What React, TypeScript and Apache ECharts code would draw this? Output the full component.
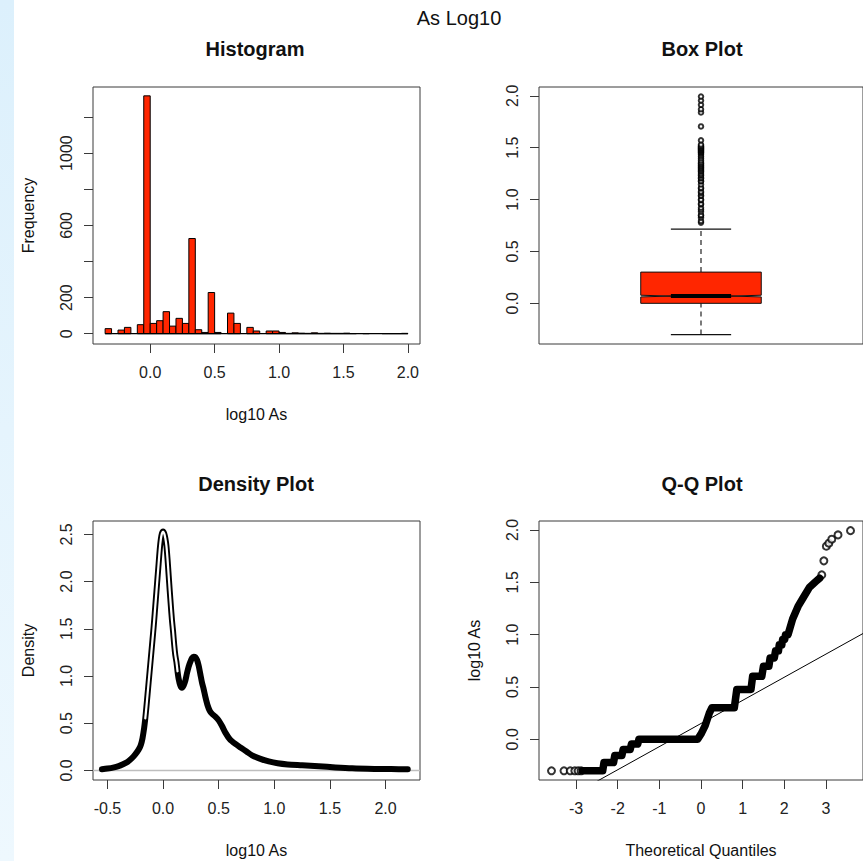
import React, { useEffect, useRef } from "react";
import * as echarts from "echarts";

const FONT = "'Liberation Sans', Arial, Helvetica, sans-serif";
const RED = "#ff2600";
const INK = "#111111";
const TICK_INK = "#222222";
const FRAME = "#3a3a3a";

// ---- Histogram of log10 As (right-closed bins) ----
const histBreaks = [
  -0.35, -0.3, -0.25, -0.2, -0.15, -0.1, -0.05, 0.0, 0.05, 0.1, 0.15, 0.2, 0.25, 0.3, 0.35, 0.4,
  0.45, 0.5, 0.55, 0.6, 0.65, 0.7, 0.75, 0.8, 0.85, 0.9, 0.95, 1.0, 1.05, 1.1, 1.15, 1.2, 1.25,
  1.3, 1.35, 1.4, 1.45, 1.5, 1.55, 1.6, 1.65, 1.7, 1.75, 1.8, 1.85, 1.9, 1.95, 2.0,
];
const histCounts = [
  28, 0, 20, 35, 0, 50, 1317, 57, 72, 122, 42, 85, 57, 527, 22, 7, 228, 7, 0, 114, 57, 0, 35, 15,
  0, 15, 15, 7, 2, 5, 3, 2, 5, 2, 3, 2, 2, 3, 1, 0, 1, 0, 0, 1, 1, 1, 2,
];
const histXTicks = [0, 0.5, 1.0, 1.5, 2.0];
const histYTicks = [0, 200, 400, 600, 800, 1000, 1200];
const histYLabels = [0, 200, 600, 1000];

// ---- Box plot summary ----
const boxStats = { low: -0.301, q1: 0.0, median: 0.07, q3: 0.301, high: 0.716 };
const boxNotch = 0.008;
const boxOutliers = [
  0.778, 0.794, 0.826, 0.845, 0.851, 0.883, 0.903, 0.921, 0.954, 0.96, 0.995, 1.0, 1.034, 1.041,
  1.065, 1.079, 1.107, 1.114, 1.146, 1.176, 1.18, 1.204, 1.21, 1.23, 1.24, 1.255, 1.27, 1.279,
  1.29, 1.301, 1.31, 1.322, 1.33, 1.342, 1.35, 1.362, 1.38, 1.398, 1.415, 1.431, 1.447, 1.455,
  1.462, 1.47, 1.477, 1.484, 1.491, 1.498, 1.505, 1.512, 1.519, 1.531, 1.571, 1.705, 1.84,
  1.871, 1.913, 1.955, 1.993,
];
const boxYTicks = [0, 0.5, 1.0, 1.5, 2.0];

// ---- Kernel density of log10 As ----
const densityX = [
  -0.55, -0.5, -0.45, -0.4, -0.36, -0.32, -0.28, -0.25, -0.22, -0.2, -0.185, -0.17, -0.16, -0.15,
  -0.14, -0.13, -0.12, -0.11, -0.1, -0.09, -0.08, -0.07, -0.06, -0.05, -0.04, -0.03, -0.02, -0.01,
  0.0, 0.01, 0.02, 0.03, 0.04, 0.05, 0.06, 0.07, 0.08, 0.09, 0.1, 0.11, 0.12, 0.13, 0.14, 0.155,
  0.17, 0.185, 0.2, 0.215, 0.23, 0.245, 0.26, 0.275, 0.29, 0.305, 0.32, 0.335, 0.35, 0.365, 0.38,
  0.4, 0.42, 0.44, 0.47, 0.5, 0.53, 0.56, 0.6, 0.65, 0.7, 0.75, 0.8, 0.87, 0.95, 1.03, 1.12, 1.25,
  1.4, 1.55, 1.7, 1.9, 2.05, 2.2,
];
const densityY = [
  0.012, 0.02, 0.03, 0.045, 0.065, 0.09, 0.13, 0.17, 0.22, 0.27, 0.34, 0.45, 0.55, 0.67, 0.8,
  0.93, 1.06, 1.19, 1.32, 1.45, 1.59, 1.74, 1.89, 2.04, 2.19, 2.34, 2.45, 2.51, 2.53, 2.51, 2.46,
  2.38, 2.24, 2.07, 1.9, 1.74, 1.59, 1.47, 1.33, 1.22, 1.15, 1.05, 0.97, 0.9, 0.875, 0.9, 0.95,
  1.03, 1.1, 1.15, 1.19, 1.205, 1.2, 1.17, 1.11, 1.02, 0.93, 0.86, 0.78, 0.69, 0.63, 0.6, 0.57,
  0.53, 0.47, 0.4, 0.33, 0.28, 0.24, 0.2, 0.16, 0.125, 0.095, 0.075, 0.063, 0.055, 0.045, 0.032,
  0.022, 0.016, 0.014, 0.012,
];
const densityXTicks = [-0.5, 0, 0.5, 1.0, 1.5, 2.0];
const densityYTicks = [0, 0.5, 1.0, 1.5, 2.0, 2.5];

// ---- Normal Q-Q plot ----
// Densely packed run of sample quantiles (theoretical, sample)
const qqDense = [
  [-2.85, -0.301], [-2.36, -0.301], [-2.33, -0.222], [-2.1, -0.222], [-2.07, -0.155],
  [-1.9, -0.155], [-1.87, -0.097], [-1.7, -0.097], [-1.67, -0.046], [-1.52, -0.046],
  [-1.49, 0.0], [-0.08, 0.0], [0.0, 0.05], [0.1, 0.13], [0.2, 0.25], [0.26, 0.301],
  [0.8, 0.301], [0.86, 0.477], [1.2, 0.477], [1.24, 0.602], [1.46, 0.602], [1.5, 0.699],
  [1.63, 0.699], [1.66, 0.778], [1.76, 0.778], [1.79, 0.845], [1.86, 0.845], [1.88, 0.903],
  [1.94, 0.903], [1.96, 0.954], [2.01, 0.954], [2.03, 1.0], [2.09, 1.0], [2.2, 1.15],
  [2.33, 1.27], [2.45, 1.35], [2.6, 1.45], [2.75, 1.505], [2.85, 1.54],
];
// Isolated points in both tails
const qqSparse = [
  [-3.59, -0.301], [-3.29, -0.301], [-3.14, -0.301], [-3.03, -0.301], [-2.95, -0.301],
  [-2.88, -0.301], [2.9, 1.571], [2.95, 1.705], [3.01, 1.845], [3.07, 1.874], [3.14, 1.912],
  [3.29, 1.953], [3.59, 1.994],
];
const qqLine = { intercept: 0.151, slope: 0.221 };
const qqXTicks = [-3, -2, -1, 0, 1, 2, 3];
const qqYTicks = [0, 0.5, 1.0, 1.5, 2.0];

// Plot regions (px) and data limits
const HIST = { left: 93, top: 87, width: 327, height: 257, x: [-0.444, 2.094], y: [-57, 1366] };
const BOX = { left: 539, top: 87, width: 326, height: 257, x: [0.5, 1.5], y: [-0.392, 2.085] };
const DENS = { left: 93, top: 521, width: 327, height: 259, x: [-0.63, 2.31], y: [-0.1016, 2.6416] };
const QQ = { left: 539, top: 521, width: 326, height: 259, x: [-3.89, 3.89], y: [-0.389, 2.086] };

const labelStyle = { fontFamily: FONT, fontSize: 16, color: TICK_INK };
const tickStyle = { show: true, length: 9, lineStyle: { color: FRAME, width: 1 } };

function xAxis(gridIndex: number, lim: number[], ticks: number[] | null, fmt: (v: number) => string, name?: string) {
  return {
    type: "value",
    gridIndex,
    min: lim[0],
    max: lim[1],
    show: ticks !== null,
    splitLine: { show: false },
    axisLine: { show: false, onZero: false },
    axisTick: { ...tickStyle, customValues: ticks || [] },
    axisLabel: { ...labelStyle, margin: 20, customValues: ticks || [], formatter: fmt },
    name: name || "",
    nameLocation: "middle",
    nameGap: 62,
    nameTextStyle: { fontFamily: FONT, fontSize: 16, color: INK },
  };
}

function yAxis(gridIndex: number, lim: number[], ticks: number[], labels: number[], fmt: (v: number) => string, name?: string) {
  return {
    type: "value",
    gridIndex,
    min: lim[0],
    max: lim[1],
    splitLine: { show: false },
    axisLine: { show: false, onZero: false },
    axisTick: { ...tickStyle, customValues: ticks },
    axisLabel: { ...labelStyle, rotate: 90, margin: 19, customValues: labels, formatter: fmt },
    name: name || "",
    nameLocation: "middle",
    nameRotate: 90,
    nameGap: 57,
    nameTextStyle: { fontFamily: FONT, fontSize: 16, color: INK },
  };
}

const one = (v: number) => v.toFixed(1);
const int = (v: number) => String(Math.round(v));

function gridOf(g: { left: number; top: number; width: number; height: number }) {
  return {
    left: g.left,
    top: g.top,
    width: g.width,
    height: g.height,
    show: true,
    borderColor: FRAME,
    borderWidth: 1,
    backgroundColor: "transparent",
  };
}

function titleText(text: string, x: number, y: number, bold: boolean) {
  return {
    type: "text",
    x,
    y,
    silent: true,
    style: {
      text,
      fill: INK,
      fontFamily: FONT,
      fontSize: 20,
      fontWeight: bold ? "bold" : "normal",
      align: "center",
      verticalAlign: "middle",
      textAlign: "center",
      textVerticalAlign: "middle",
    },
  };
}

function buildOption() {
  const histData = histCounts.map((c, i) => [histBreaks[i], histBreaks[i + 1], c]);
  const densData = densityX.map((x, i) => [x, densityY[i]]);
  const peakData = densData.filter((p) => p[0] >= -0.165 && p[0] <= 0.135);
  const qqLineData = [QQ.x[0], QQ.x[1]].map((x) => [x, qqLine.intercept + qqLine.slope * x]);

  return {
    animation: false,
    backgroundColor: "#ffffff",
    graphic: [
      {
        type: "rect",
        shape: { x: 0, y: 0, width: 14, height: 861 },
        silent: true,
        style: {
          fill: new echarts.graphic.LinearGradient(0, 0, 0, 1, [
            { offset: 0, color: "#dcf0fc" },
            { offset: 1, color: "#eef8fe" },
          ]),
        },
      },
      titleText("As Log10", 459, 18, false),
      titleText("Histogram", 255, 49, true),
      titleText("Box Plot", 702, 49, true),
      titleText("Density Plot", 256, 484, true),
      titleText("Q-Q Plot", 702, 484, true),
    ],
    grid: [gridOf(HIST), gridOf(BOX), gridOf(DENS), gridOf(QQ)],
    xAxis: [
      xAxis(0, HIST.x, histXTicks, one, "log10 As"),
      xAxis(1, BOX.x, null, one),
      xAxis(2, DENS.x, densityXTicks, one, "log10 As"),
      xAxis(3, QQ.x, qqXTicks, int, "Theoretical Quantiles"),
    ],
    yAxis: [
      yAxis(0, HIST.y, histYTicks, histYLabels, int, "Frequency"),
      yAxis(1, BOX.y, boxYTicks, boxYTicks, one),
      yAxis(2, DENS.y, densityYTicks, densityYTicks, one, "Density"),
      yAxis(3, QQ.y, qqYTicks, qqYTicks, one, "log10 As"),
    ],
    series: [
      // histogram baseline (zero-height bins)
      {
        type: "line",
        xAxisIndex: 0,
        yAxisIndex: 0,
        data: [[histBreaks[0], 0], [histBreaks[histBreaks.length - 1], 0]],
        showSymbol: false,
        lineStyle: { color: "#000", width: 1.2 },
        silent: true,
      },
      {
        type: "custom",
        xAxisIndex: 0,
        yAxisIndex: 0,
        data: histData,
        silent: true,
        renderItem: (_p: any, api: any) => {
          const c = api.value(2);
          if (!c) return null;
          const a = api.coord([api.value(0), c]);
          const b = api.coord([api.value(1), 0]);
          return {
            type: "rect",
            shape: { x: a[0], y: a[1], width: b[0] - a[0], height: b[1] - a[1] },
            style: { fill: RED, stroke: "#000", lineWidth: 1 },
          };
        },
      },
      // box plot
      {
        type: "custom",
        xAxisIndex: 1,
        yAxisIndex: 1,
        silent: true,
        data: [[1, boxStats.low, boxStats.q1, boxStats.median, boxStats.q3, boxStats.high]],
        renderItem: (_p: any, api: any) => {
          const cx = api.value(0);
          const lo = api.value(1), q1 = api.value(2), md = api.value(3), q3 = api.value(4), hi = api.value(5);
          const w = 0.186;
          const P = (x: number, y: number) => api.coord([x, y]);
          const seg = (x1: number, y1: number, x2: number, y2: number, style: any) => {
            const a = P(x1, y1), b = P(x2, y2);
            return { type: "line", shape: { x1: a[0], y1: a[1], x2: b[0], y2: b[1] }, style };
          };
          const dashed = { stroke: "#222", lineWidth: 1.2, lineDash: [5, 4] };
          const solid = { stroke: "#111", lineWidth: 1.2 };
          const poly = [
            [cx - w, q1], [cx + w, q1], [cx + w, md - boxNotch], [cx + w / 2, md], [cx + w, md + boxNotch],
            [cx + w, q3], [cx - w, q3], [cx - w, md + boxNotch], [cx - w / 2, md], [cx - w, md - boxNotch],
          ].map((p) => P(p[0], p[1]));
          return {
            type: "group",
            children: [
              seg(cx, q3, cx, hi, dashed),
              seg(cx, lo, cx, q1, dashed),
              seg(cx - w / 2, hi, cx + w / 2, hi, solid),
              seg(cx - w / 2, lo, cx + w / 2, lo, solid),
              { type: "polygon", shape: { points: poly }, style: { fill: RED, stroke: "#111", lineWidth: 1 } },
              seg(cx - w / 2, md, cx + w / 2, md, { stroke: "#000", lineWidth: 4 }),
            ],
          };
        },
      },
      {
        type: "scatter",
        xAxisIndex: 1,
        yAxisIndex: 1,
        silent: true,
        data: boxOutliers.map((v) => [1, v]),
        symbol: "emptyCircle",
        symbolSize: 4.5,
        itemStyle: { color: "#000", borderColor: "#000", borderWidth: 1 },
      },
      // density
      {
        type: "line",
        xAxisIndex: 2,
        yAxisIndex: 2,
        silent: true,
        data: [[DENS.x[0], 0], [DENS.x[1], 0]],
        showSymbol: false,
        lineStyle: { color: "#bebebe", width: 1.5 },
      },
      {
        type: "line",
        xAxisIndex: 2,
        yAxisIndex: 2,
        silent: true,
        data: densData,
        smooth: 0.25,
        showSymbol: false,
        lineStyle: { color: "#000", width: 6, cap: "round", join: "round" },
      },
      {
        type: "line",
        xAxisIndex: 2,
        yAxisIndex: 2,
        silent: true,
        data: peakData,
        smooth: 0.25,
        showSymbol: false,
        lineStyle: { color: "#fff", width: 2.2, cap: "round", join: "round" },
      },
      // Q-Q
      {
        type: "line",
        xAxisIndex: 3,
        yAxisIndex: 3,
        silent: true,
        data: qqDense,
        showSymbol: false,
        lineStyle: { color: "#000", width: 7.5, cap: "round", join: "round" },
      },
      {
        type: "scatter",
        xAxisIndex: 3,
        yAxisIndex: 3,
        silent: true,
        data: qqSparse,
        symbol: "emptyCircle",
        symbolSize: 7,
        itemStyle: { color: "#000", borderColor: "#000", borderWidth: 1.1 },
      },
      {
        type: "line",
        xAxisIndex: 3,
        yAxisIndex: 3,
        silent: true,
        clip: true,
        data: qqLineData,
        showSymbol: false,
        lineStyle: { color: "#000", width: 1 },
      },
    ],
  };
}

export default function App() {
  const ref = useRef<HTMLDivElement>(null);
  useEffect(() => {
    if (!ref.current) return;
    const chart = echarts.init(ref.current, null, { renderer: "svg" });
    chart.setOption(buildOption() as any);
    return () => chart.dispose();
  }, []);
  return (
    <div
      ref={ref}
      style={{ position: "fixed", left: 0, top: 0, width: 863, height: 861, background: "#ffffff" }}
    />
  );
}
